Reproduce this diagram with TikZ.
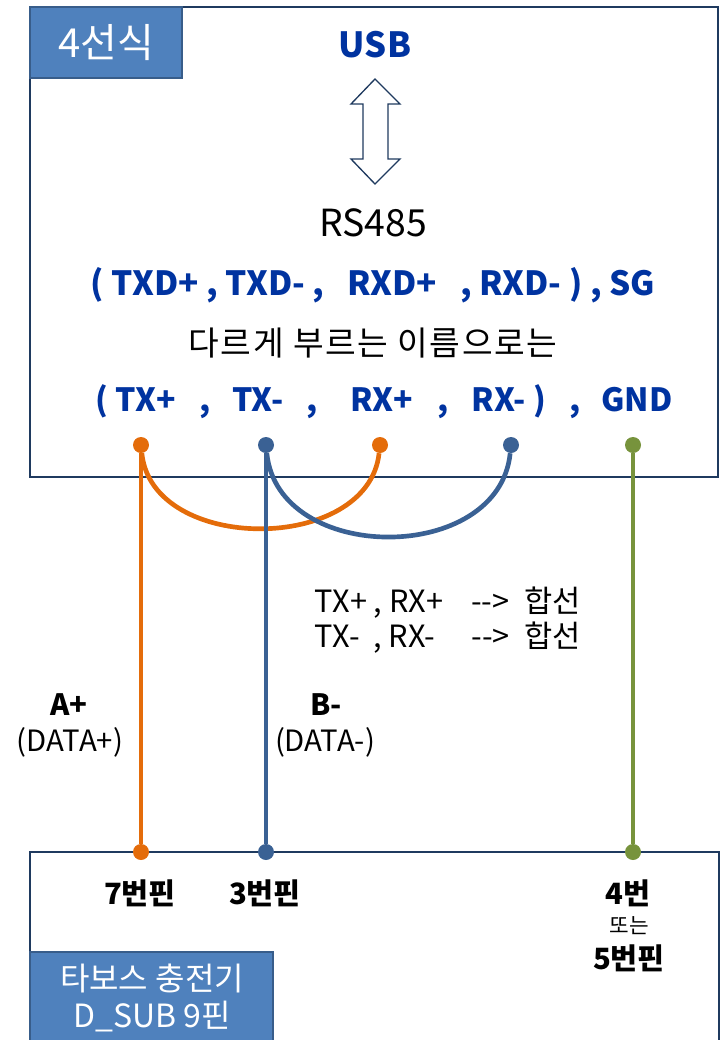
\documentclass[tikz,border=0pt]{standalone}
\usepackage{fontspec}
\setmainfont{Noto Sans CJK KR}
\definecolor{labelblue}{HTML}{4F81BD}
\definecolor{labelline}{HTML}{385D8A}
\definecolor{frameline}{HTML}{1F3A5F}
\definecolor{navytext}{HTML}{0033A0}
\definecolor{wireorange}{HTML}{E46C0A}
\definecolor{wireblue}{HTML}{3A6194}
\definecolor{wiregreen}{HTML}{77933C}

\begin{document}
\begin{tikzpicture}[x=0.75pt,y=-0.75pt,
    frame/.style={draw=frameline,line width=1.5pt},
    tag/.style={fill=labelblue,draw=labelline,line width=1.2pt},
    wire/.style={line width=3.5pt},
    pindot/.style={circle,inner sep=0pt,minimum size=12pt},
    bluebold/.style={text=navytext,font=\fontsize{24}{28}\selectfont\bfseries},
    pinpart/.style={bluebold,anchor=base},
    pinlabel/.style={font=\fontsize{22}{26}\selectfont\bfseries}]
  \useasboundingbox (0,0) rectangle (721,1040);
  \clip (0,0) rectangle (721,1040);

  % converter box
  \draw[frame] (30,7) rectangle (718,477);
  \filldraw[tag] (30,7) rectangle (182,78);
  \node[text=white,font=\fontsize{30}{34}\selectfont] (tagtop) at (106,43) {4선식};

  \node[bluebold,font=\fontsize{26}{30}\selectfont\bfseries] (usb) at (375,45) {USB};
  \draw[frameline,line width=1pt,fill=white]
    (375,79) -- (400,104) -- (388,104) -- (388,159) -- (400,159) -- (375,184)
    -- (351,159) -- (363,159) -- (363,104) -- (351,104) -- cycle;
  \node[font=\fontsize{28}{32}\selectfont] (rs) at (373,223) {RS485};
  \node[bluebold,font=\fontsize{25}{29}\selectfont\bfseries] (names) at (373,285)
    {(\ TXD+ , TXD- ,\ \ \ RXD+\ \ \ , RXD- ) , SG};
  \node[font=\fontsize{25}{29}\selectfont\addfontfeature{LetterSpace=5}] (other) at (373,343)
    {다르게 부르는 이름으로는};

  \node[pinpart] (ltxp) at (136,411) {( TX+};
  \node[pinpart] (c1) at (205,411) {,};
  \node[pinpart] (ltxm) at (258,411) {TX-};
  \node[pinpart] (c2) at (312,411) {,};
  \node[pinpart] (lrxp) at (382,411) {RX+};
  \node[pinpart] (c3) at (443,411) {,};
  \node[pinpart] (lrxm) at (509,411) {RX- )};
  \node[pinpart] (c4) at (575,411) {,};
  \node[pinpart] (lgnd) at (637,411) {GND};

  % charger box
  \draw[frame] (30,852) rectangle (719,1060);
  \filldraw[tag] (30,952) rectangle (273,1060);
  \node[text=white,font=\fontsize{24}{28}\selectfont] (tagbot1) at (152,978) {타보스 충전기};
  \node[text=white,font=\fontsize{24}{28}\selectfont] (tagbot2) at (152,1017) {D\_SUB 9핀};

  % pins
  \node[pindot,fill=wireorange] (txp) at (141,445) {};
  \node[pindot,fill=wireblue] (txm) at (266,445) {};
  \node[pindot,fill=wireorange] (rxp) at (380,445) {};
  \node[pindot,fill=wireblue] (rxm) at (511,445) {};
  \node[pindot,fill=wiregreen] (gnd) at (633,445) {};
  \node[pindot,fill=wireorange] (pin7) at (141,852) {};
  \node[pindot,fill=wireblue] (pin3) at (266,852) {};
  \node[pindot,fill=wiregreen] (pin5) at (633,852) {};

  % wires
  \draw[wire,wireorange] (txp) .. controls (152,554) and (368,554) .. (rxp);
  \draw[wire,wireblue] (txm) .. controls (278,565) and (499,565) .. (rxm);
  \draw[wire,wireorange] (txp) -- (pin7);
  \draw[wire,wireblue] (txm) -- (pin3);
  \draw[wire,wiregreen] (gnd) -- (pin5);

  \node[anchor=west,font=\fontsize{23}{27}\selectfont] (short1) at (310,603)
    {TX+ , RX+\hspace{21pt}-{}-{}>\hspace{11pt}합선};
  \node[anchor=west,font=\fontsize{23}{27}\selectfont] (short2) at (310,638)
    {TX-\ \ , RX-\hspace{27pt}-{}-{}>\hspace{11pt}합선};

  \node[pinlabel] (aplus) at (69,705) {A+};
  \node[font=\fontsize{22}{26}\selectfont] (datap) at (70,742) {(DATA+)};
  \node[pinlabel] (bminus) at (326,705) {B-};
  \node[font=\fontsize{22}{26}\selectfont] (datam) at (325,742) {(DATA-)};

  \node[pinlabel] (l7) at (140,893) {7번핀};
  \node[pinlabel] (l3) at (265,893) {3번핀};
  \node[pinlabel] (l4) at (628,893) {4번};
  \node[font=\fontsize{16}{19}\selectfont] (lor) at (629,926) {또는};
  \node[pinlabel] (l5) at (629,958) {5번핀};
\end{tikzpicture}
\end{document}
